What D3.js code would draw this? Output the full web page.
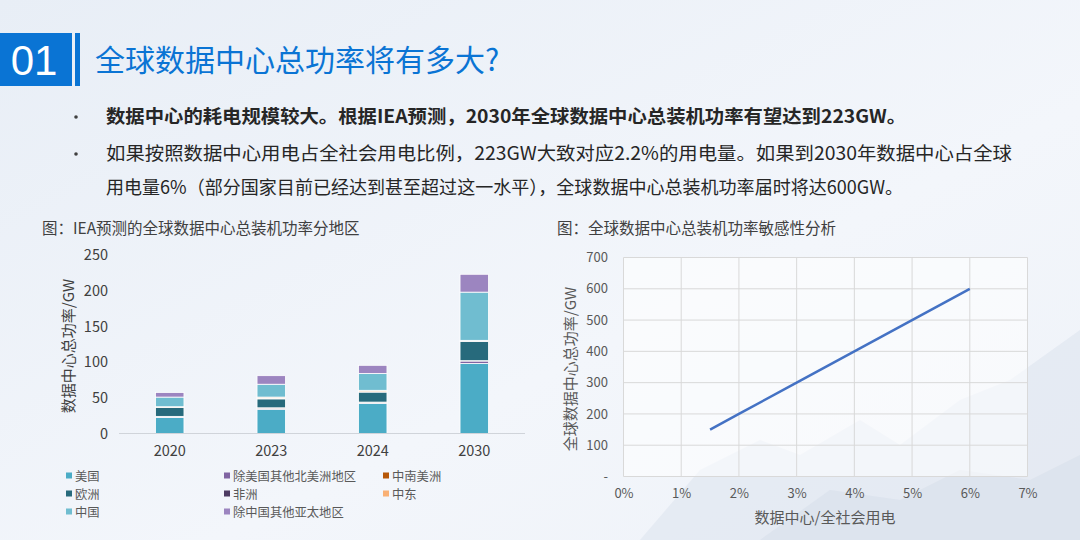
<!DOCTYPE html>
<html>
<head>
<meta charset="utf-8">
<script src="https://cdn.jsdelivr.net/npm/d3@7"></script>
<style>
  body { margin: 0; padding: 0; overflow: hidden; }
  svg { display: block; font-family: "Noto Sans CJK SC", "Noto Sans", sans-serif; }
</style>
</head>
<body>
<div id="chart"></div>
<script>
// left chart: IEA forecast by region (GW)
var years = ["2020", "2023", "2024", "2030"];
var regions = ["美国", "除美国其他北美洲地区", "中南美洲", "欧洲", "非洲", "中东", "中国", "除中国其他亚太地区"];
var regionColors = ["#4BACC6", "#8064A2", "#B65708", "#276A7C", "#4D3B62", "#F9B074", "#70BDD0", "#9C85C0"];
var usVals       = [22.5, 34, 42, 98];
var otherNAVals  = [1, 1.5, 1.5, 3.5];
var latamVals    = [0.5, 0.5, 0.5, 0.5];
var europeVals   = [12.5, 12.5, 14, 27];
var africaVals   = [0.3, 1, 0.5, 0.5];
var meVals       = [0.7, 1.5, 2, 1];
var chinaVals    = [13.5, 18, 23.5, 67.5];
var otherAPVals  = [6.5, 12, 11.5, 25];
var yTicksLeft   = [0, 50, 100, 150, 200, 250];

// right chart: sensitivity (share of total power use -> GW)
var shareVals = [1.5, 2, 3, 4, 5, 6];
var powerVals = [150, 200, 300, 400, 500, 600];
var xTicksRight = [0, 1, 2, 3, 4, 5, 6, 7];
var yTicksRight = [0, 100, 200, 300, 400, 500, 600, 700];

var W = 1080, H = 540;
var svg = d3.select("#chart").append("svg").attr("width", W).attr("height", H);

// background
var defs = svg.append("defs");
var bg = defs.append("linearGradient").attr("id", "bg").attr("x1", 0).attr("y1", 0).attr("x2", 1).attr("y2", 1);
bg.append("stop").attr("offset", "0%").attr("stop-color", "#E8EEF6");
bg.append("stop").attr("offset", "60%").attr("stop-color", "#F3F6FB");
bg.append("stop").attr("offset", "100%").attr("stop-color", "#EEF2F8");
svg.append("rect").attr("width", W).attr("height", H).attr("fill", "url(#bg)");

// faint mountains bottom right
svg.append("path")
  .attr("d", "M640,540 L700,470 L760,440 L800,455 L860,420 L900,445 L960,400 L1010,380 L1080,330 L1080,540 Z")
  .attr("fill", "#DDE5EF").attr("opacity", 0.6);
svg.append("path")
  .attr("d", "M760,540 L830,490 L900,500 L960,470 L1030,480 L1080,455 L1080,540 Z")
  .attr("fill", "#D5DEEA").attr("opacity", 0.5);

// header
svg.append("rect").attr("x", 0).attr("y", 33).attr("width", 72).attr("height", 53).attr("fill", "#0A74D4");
svg.append("rect").attr("x", 75).attr("y", 33).attr("width", 5).attr("height", 53).attr("fill", "#0A74D4");
svg.append("text").attr("x", 34).attr("y", 75).attr("text-anchor", "middle")
  .attr("fill", "#fff").attr("font-size", 42).attr("font-family", "Liberation Sans, Arial, sans-serif")
  .text("01");
svg.append("text").attr("x", 95).attr("y", 71).attr("fill", "#0A74D4").attr("font-size", 30)
  .text("全球数据中心总功率将有多大?");

// bullets
var bullets = [
  { y: 123, t: "数据中心的耗电规模较大。根据IEA预测，2030年全球数据中心总装机功率有望达到223GW。", b: true, w: 800, dot: true },
  { y: 160, t: "如果按照数据中心用电占全社会用电比例，223GW大致对应2.2%的用电量。如果到2030年数据中心占全球", b: false, w: 906, dot: true },
  { y: 194, t: "用电量6%（部分国家目前已经达到甚至超过这一水平），全球数据中心总装机功率届时将达600GW。", b: false, w: 797, dot: false }
];
bullets.forEach(function(d) {
  if (d.dot)
    svg.append("circle").attr("cx", 76).attr("cy", d.y - 6).attr("r", 1.8).attr("fill", "#404040");
  svg.append("text").attr("x", 106).attr("y", d.y).attr("font-size", 18.5)
    .attr("font-weight", d.b ? "bold" : "normal").attr("fill", "#262626")
    .attr("textLength", d.w).attr("lengthAdjust", "spacingAndGlyphs")
    .text(d.t);
});

// captions
svg.append("text").attr("x", 42).attr("y", 234).attr("font-size", 15.5).attr("fill", "#404040")
  .text("图：IEA预测的全球数据中心总装机功率分地区");
svg.append("text").attr("x", 557).attr("y", 234).attr("font-size", 15.5).attr("fill", "#404040")
  .text("图：全球数据中心总装机功率敏感性分析");

// ---------- left chart ----------
var seriesVals = [usVals, otherNAVals, latamVals, europeVals, africaVals, meVals, chinaVals, otherAPVals];
var rows = years.map(function(y, i) {
  var r = { year: y };
  regions.forEach(function(reg, k) { r[reg] = seriesVals[k][i]; });
  return r;
});
var stacked = d3.stack().keys(regions)(rows);

var xL = d3.scaleBand().domain(years).range([119, 525]).paddingInner(0.72).paddingOuter(0.36);
var yL = d3.scaleLinear().domain([0, 250]).range([433.5, 255]);

var gL = svg.append("g");
gL.selectAll("g.ser").data(stacked).enter().append("g")
  .attr("fill", function(d, i) { return regionColors[i]; })
  .selectAll("rect").data(function(d) { return d; }).enter().append("rect")
    .attr("x", function(d) { return xL(d.data.year); })
    .attr("width", xL.bandwidth())
    .attr("y", function(d) { return yL(d[1]); })
    .attr("height", function(d) { return Math.max(0, yL(d[0]) - yL(d[1])); })
    .attr("stroke", "#fff").attr("stroke-width", 0.8);

var axL = gL.append("g").attr("transform", "translate(0,433.5)")
  .call(d3.axisBottom(xL).tickSize(0).tickPadding(12));
axL.select(".domain").attr("stroke", "#D0D4DA").attr("d", "M119,0H525");
axL.selectAll("text").attr("font-size", 14.5).attr("fill", "#404040").attr("font-family", "Noto Sans CJK SC");

var ayL = gL.append("g").attr("transform", "translate(108,0)")
  .call(d3.axisLeft(yL).tickValues(yTicksLeft).tickSize(0).tickPadding(0));
ayL.select(".domain").remove();
ayL.selectAll("text").attr("font-size", 14.5).attr("fill", "#404040").attr("font-family", "Noto Sans CJK SC");

svg.append("text").attr("transform", "translate(74,346) rotate(-90)").attr("text-anchor", "middle")
  .attr("font-size", 15).attr("fill", "#404040").text("数据中心总功率/GW");

// legend (Excel fills rows left to right)
var legCols = [66, 224, 383];
var legRows = [475.5, 493.5, 511.5];
regions.forEach(function(r, i) {
  var cx = legCols[i % 3], cy = legRows[Math.floor(i / 3)];
  svg.append("rect").attr("x", cx).attr("y", cy - 3).attr("width", 6).attr("height", 6).attr("fill", regionColors[i]);
  svg.append("text").attr("x", cx + 9).attr("y", cy).attr("dominant-baseline", "central")
    .attr("font-size", 12.3).attr("fill", "#595959").text(r);
});

// ---------- right chart ----------
var xR = d3.scaleLinear().domain([0, 7]).range([623.5, 1027.5]);
var yR = d3.scaleLinear().domain([0, 700]).range([476.5, 257.5]);
var gR = svg.append("g");
gR.append("rect").attr("x", xR(0)).attr("y", yR(700)).attr("width", xR(7) - xR(0)).attr("height", yR(0) - yR(700))
  .attr("fill", "#FFFFFF").attr("fill-opacity", 0.55);
gR.selectAll("line.h").data(yTicksRight).enter().append("line")
  .attr("x1", xR(0)).attr("x2", xR(7)).attr("y1", function(d) { return yR(d); }).attr("y2", function(d) { return yR(d); })
  .attr("stroke", "#D9D9D9").attr("stroke-width", 1);
gR.selectAll("line.v").data(xTicksRight).enter().append("line")
  .attr("y1", yR(0)).attr("y2", yR(700)).attr("x1", function(d) { return xR(d); }).attr("x2", function(d) { return xR(d); })
  .attr("stroke", "#D9D9D9").attr("stroke-width", 1);

var line = d3.line().x(function(d) { return xR(d[0]); }).y(function(d) { return yR(d[1]); });
gR.append("path").datum(d3.zip(shareVals, powerVals)).attr("d", line)
  .attr("fill", "none").attr("stroke", "#4472C4").attr("stroke-width", 2.5);

var axR = gR.append("g").attr("transform", "translate(0," + yR(0) + ")")
  .call(d3.axisBottom(xR).tickValues(xTicksRight).tickSize(0).tickPadding(12)
    .tickFormat(function(d) { return d + "%"; }));
axR.select(".domain").remove();
axR.selectAll("text").attr("font-size", 13).attr("fill", "#595959").attr("font-family", "Noto Sans CJK SC");

var ayR = gR.append("g").attr("transform", "translate(608,0)")
  .call(d3.axisLeft(yR).tickValues(yTicksRight).tickSize(0).tickPadding(0)
    .tickFormat(function(d) { return d === 0 ? "-" : d; }));
ayR.select(".domain").remove();
ayR.selectAll("text").attr("font-size", 13).attr("fill", "#595959").attr("font-family", "Noto Sans CJK SC");

svg.append("text").attr("x", 825).attr("y", 523).attr("text-anchor", "middle")
  .attr("font-size", 15).attr("fill", "#595959").text("数据中心/全社会用电");
svg.append("text").attr("transform", "translate(576,369) rotate(-90)").attr("text-anchor", "middle")
  .attr("font-size", 15).attr("fill", "#595959").text("全球数据中心总功率/GW");
</script>
</body>
</html>
